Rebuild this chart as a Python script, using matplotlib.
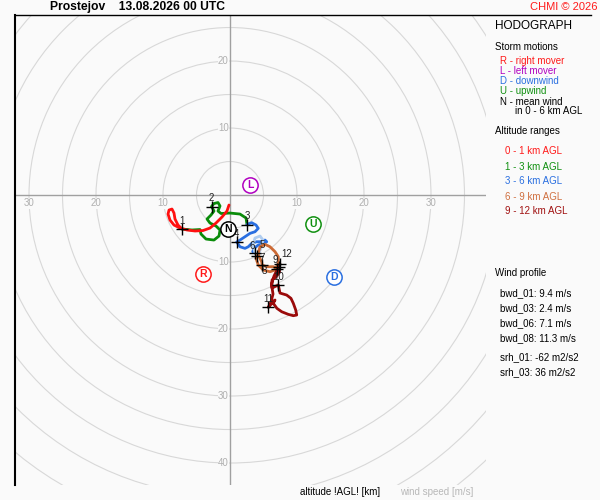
import matplotlib
matplotlib.use("Agg")
import matplotlib.pyplot as plt
from matplotlib.patches import Circle
from matplotlib.lines import Line2D

plt.rcParams['font.family'] = ['Liberation Sans', 'DejaVu Sans']

# ---------------- data (m/s) ----------------
u_0_1 = [-0.15, -0.45, -1.19, -2.09, -2.99, -4.03, -5.22, -6.42, -7.46, -8.36, -8.96, -9.25, -9.10, -8.66, -8.36, -8.21, -7.76, -7.16]
v_0_1 = [-1.49, -2.39, -3.28, -4.18, -4.93, -5.30, -5.37, -5.22, -4.93, -4.48, -3.73, -2.84, -2.24, -2.09, -2.69, -3.58, -4.48, -5.07]

u_1_3 = [-7.16, -5.67, -4.48, -4.33, -3.58, -2.39, -1.64, -1.49, -2.09, -2.99, -3.43, -2.84, -2.39, -2.76, -2.39, -1.79, -1.49, -1.79, -1.34, 0.00, 1.49, 2.39, 2.54]
v_1_3 = [-5.07, -5.22, -5.15, -5.82, -6.57, -6.72, -6.12, -5.22, -4.63, -4.18, -3.58, -2.99, -2.39, -1.72, -1.27, -1.12, -1.64, -2.39, -2.76, -2.69, -2.84, -3.43, -4.40]

u_3_6 = [2.54, 3.24, 3.88, 4.22, 3.73, 2.99, 2.24, 1.49, 1.00, 1.49, 2.24, 2.73, 3.24, 3.99, 4.73, 5.22, 5.48, 4.97, 4.22, 3.58, 3.39, 3.73]
v_3_6 = [-4.40, -4.13, -4.48, -4.97, -5.48, -5.72, -6.22, -6.72, -7.01, -7.72, -7.96, -7.72, -7.21, -6.97, -6.97, -6.72, -6.97, -7.31, -7.46, -7.96, -8.46, -8.66]
u_5_6 = [3.73, 3.43, 3.73, 4.48, 4.93, 4.63, 4.10]
v_5_6 = [-8.66, -7.46, -6.42, -6.12, -6.72, -7.91, -9.10]

u_6_9 = [4.10, 4.48, 5.22, 5.97, 6.72, 7.21, 7.21, 6.72, 5.97, 4.97, 4.22, 3.88, 4.22, 4.73, 4.78, 5.48, 6.46, 7.01, 7.31]
v_6_9 = [-9.10, -7.72, -7.36, -7.72, -8.46, -9.21, -10.19, -11.19, -11.45, -11.19, -10.45, -9.45, -8.96, -9.96, -10.45, -10.70, -10.70, -10.97, -10.67]

u_9_12 = [7.31, 7.39, 6.87, 6.27, 6.27, 7.21, 7.46, 8.46, 9.10, 9.45, 9.81, 9.96, 9.45, 8.70, 7.72, 7.00, 6.46, 6.72, 5.72, 6.12, 6.42, 6.19, 6.57, 7.46]
v_9_12 = [-10.67, -11.49, -12.24, -12.69, -13.88, -13.43, -14.63, -14.93, -15.42, -16.16, -17.16, -17.91, -18.01, -17.81, -17.42, -16.91, -16.16, -15.67, -16.76, -15.97, -14.78, -13.28, -12.09, -10.30]

height_labels = ["1", "2", "3", "4", "5", "6", "7", "8", "9", "10", "11", "12"]
height_u = [-7.16, -2.76, 2.54, 1.00, 3.73, 4.10, 4.78, 7.01, 7.31, 7.21, 5.72, 7.46]
height_v = [-5.07, -1.72, -4.40, -7.01, -8.66, -9.10, -10.45, -10.97, -10.67, -13.43, -16.76, -10.30]

motion_labels = ["R", "L", "D", "U", "N"]
motion_u = [-4.03, 2.99, 15.5, 12.4, -0.30]
motion_v = [-11.8, 1.49, -12.2, -4.33, -5.07]
motion_colors = ["#ff1a1a", "#b000c0", "#2a6fe0", "#109010", "#000000"]

ring_radii = list(range(5, 65, 5))
x_tick_values = [-30, -20, -10, 10, 20, 30]
y_tick_values = [20, 10, -10, -20, -30, -40]

title_text = "Prostejov    13.08.2026 00 UTC"
bwd_texts = ["bwd_01: 9.4 m/s", "bwd_03: 2.4 m/s", "bwd_06: 7.1 m/s", "bwd_08: 11.3 m/s"]
srh_texts = ["srh_01: -62 m2/s2", "srh_03: 36 m2/s2"]

# label offsets (points) for the height marks, to keep crowded labels apart
label_offsets = {"5": (5, 6), "6": (-4, 7), "7": (0, 5), "8": (-9, -2), "9": (-3, 5), "12": (5, 7)}

# ---------------- figure ----------------
BG = '#fafafa'
fig = plt.figure(figsize=(6, 5), dpi=100, facecolor=BG)
ax = fig.add_axes([15/600, 15/500, 471/600, 470/500])
ax.set_facecolor(BG)
ax.set_xlim(-32.09, 38.21)
ax.set_ylim(-43.28, 26.87)
ax.set_xticks([]); ax.set_yticks([])
for s in ['right', 'bottom', 'top']:
    ax.spines[s].set_visible(False)
ax.spines['left'].set_color('black')
ax.spines['left'].set_linewidth(1.5)

fig.add_artist(Line2D([15/600, 591/600], [485/500, 485/500], color='black', lw=1.0))

for r in ring_radii:
    ax.add_patch(Circle((0, 0), r, fill=False, ec='#d8d8d8', lw=0.8, zorder=1))
ax.axhline(0, color='#a0a0a0', lw=1.0, zorder=2)
ax.axvline(0, color='#a0a0a0', lw=1.0, zorder=2)

for val in x_tick_values:
    ax.text(val, -1.25, str(abs(val)), ha='center', va='center', color='#b0b0b0', fontsize=7,
            bbox=dict(fc=BG, ec='none', pad=0.3), zorder=3)
for val in y_tick_values:
    ax.text(-0.2, val, str(abs(val)), ha='right', va='center', color='#b0b0b0', fontsize=7,
            bbox=dict(fc=BG, ec='none', pad=0.3), zorder=3)

lw = 2.0
kw = dict(lw=lw, zorder=5, solid_capstyle='round', solid_joinstyle='round')
ax.plot(u_1_3, v_1_3, color='#0a8c0a', **kw)
ax.plot(u_0_1, v_0_1, color='#ff1010', **kw)
ax.plot(u_3_6, v_3_6, color='#2a6fe0', **kw)
ax.plot(u_5_6, v_5_6, color='#b0cdf0', **kw)
ax.plot(u_6_9, v_6_9, color='#cc6a35', **kw)
ax.plot(u_9_12, v_9_12, color='#9a0a0a', **kw)

ax.plot(height_u, height_v, linestyle='none', marker='+', color='black', ms=9, mew=1.0, zorder=6)
for lab, hu, hv in zip(height_labels, height_u, height_v):
    off = label_offsets.get(lab, (0, 6))
    ax.annotate(lab, (hu, hv), xytext=off, textcoords='offset points', ha='center', va='center',
                fontsize=7, color='#202020', zorder=7)

for lab, mu, mv, c in zip(motion_labels, motion_u, motion_v, motion_colors):
    ax.plot([mu], [mv], marker='o', ms=11, mfc='white', mec=c, mew=1.1, zorder=8)
    ax.text(mu, mv, lab, ha='center', va='center', fontsize=7.5, fontweight='bold', color=c, zorder=9)

# ---------------- texts ----------------
def ftext(x, y, s, **kw):
    fig.text(x/600, 1 - y/500, s, va='center', **kw)

ftext(50, 7, title_text, fontsize=8.7, fontweight='bold', ha='left')
ftext(597, 7, "CHMI \u00a9 2026", fontsize=8, color='#ff1a1a', ha='right')
ftext(495, 26, "HODOGRAPH", fontsize=8.5, ha='left')
ftext(495, 46.5, "Storm motions", fontsize=7, ha='left')
ftext(500, 61.5, "R - right mover", fontsize=7, color='#ff1a1a', ha='left')
ftext(500, 71.5, "L - left mover", fontsize=7, color='#b000c0', ha='left')
ftext(500, 81.5, "D - downwind", fontsize=7, color='#2a6fe0', ha='left')
ftext(500, 91.5, "U - upwind", fontsize=7, color='#109010', ha='left')
ftext(500, 101.5, "N - mean wind", fontsize=7, color='black', ha='left')
ftext(515, 111.5, "in 0 - 6 km AGL", fontsize=7, color='black', ha='left')
ftext(495, 131.5, "Altitude ranges", fontsize=7, ha='left')
ftext(505, 151.5, "0 - 1 km AGL", fontsize=7, color='#ff1a1a', ha='left')
ftext(505, 166.5, "1 - 3 km AGL", fontsize=7, color='#109010', ha='left')
ftext(505, 181.5, "3 - 6 km AGL", fontsize=7, color='#2a6fe0', ha='left')
ftext(505, 196.5, "6 - 9 km AGL", fontsize=7, color='#d07040', ha='left')
ftext(505, 211.5, "9 - 12 km AGL", fontsize=7, color='#a01010', ha='left')
ftext(495, 272.5, "Wind profile", fontsize=7, ha='left')
for i, t in enumerate(bwd_texts):
    ftext(500, 293.3 + 15 * i, t, fontsize=7, ha='left')
for i, t in enumerate(srh_texts):
    ftext(500, 356.7 + 15 * i, t, fontsize=7, ha='left')
ftext(300, 492, "altitude !AGL! [km]", fontsize=7, ha='left')
ftext(400, 492, "wind speed [m/s]", fontsize=7, color='#b8b8b8', ha='left')

fig.savefig("out.png", dpi=100, facecolor=BG)
